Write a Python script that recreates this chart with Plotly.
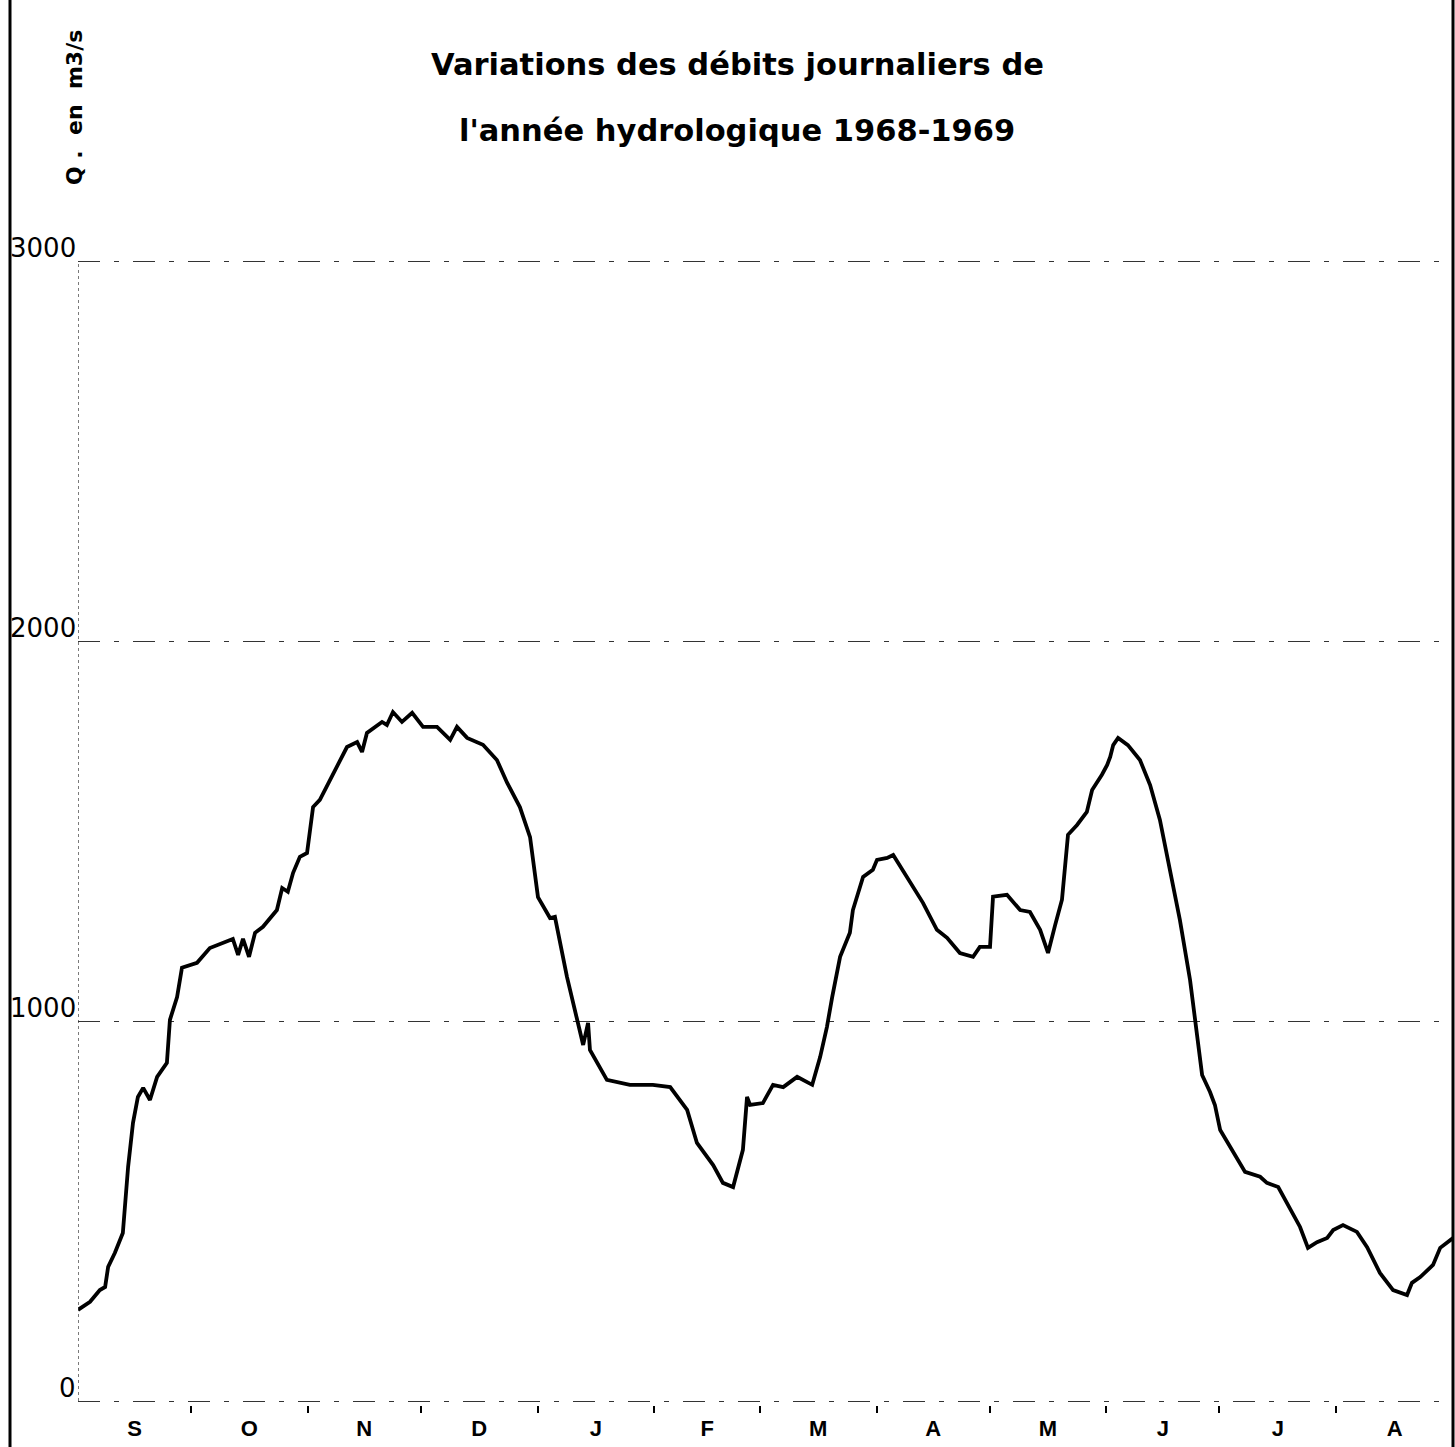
import plotly.graph_objects as go

# ---- data ----
day = [0, 3.2, 5.8, 7.2, 8.0, 9.8, 11.9, 12.5, 13.3, 14.6, 15.9, 17.3, 19.1, 21.0, 23.6, 24.4, 26.3, 27.6,
       31.6, 35.0, 41.1, 42.5, 43.8, 45.4, 47.0, 49.1, 52.8, 54.2, 55.7, 57.1, 58.9, 60.8, 62.4, 64.2, 66.9,
       68.8, 71.4, 74.1, 75.4, 76.7, 80.7, 82.0, 83.6, 86.0, 88.7, 91.6, 95.3, 98.8, 100.6, 103.3, 107.5,
       111.2, 113.9, 117.3, 120.0, 122.1, 125.3, 126.6, 129.8, 134.1, 135.4, 135.9, 140.4, 146.5, 152.6,
       157.2, 161.7, 164.3, 168.6, 171.2, 173.9, 176.5, 177.6, 178.4, 181.8, 184.5, 187.2, 190.9, 194.9,
       197.0, 198.8, 200.2, 202.3, 204.9, 205.7, 208.4, 211.0, 212.1, 214.8, 216.4, 220.1, 224.3, 228.0,
       230.7, 234.1, 237.6, 239.4, 242.1, 242.9, 246.6, 250.1, 252.7, 255.4, 257.5, 259.4, 261.2, 262.8,
       265.2, 267.8, 269.2, 271.8, 273.2, 274.0, 274.8, 276.1, 278.7, 281.9, 284.6, 287.2, 289.9, 292.5,
       295.2, 297.1, 298.4, 300.5, 301.8, 303.2, 306.3, 309.8, 313.8, 315.6, 318.6, 320.9, 324.4, 326.5,
       328.9, 331.6, 333.2, 335.8, 339.5, 342.2, 345.6, 349.1, 352.8, 354.1, 356.3, 359.7, 361.6, 365]
debit = [240, 261, 292, 300, 353, 390, 442, 529, 616, 732, 800, 824, 792, 853, 890, 1003, 1063, 1140,
         1153, 1192, 1216, 1174, 1216, 1169, 1232, 1248, 1292, 1350, 1340, 1390, 1432, 1442, 1563, 1582, 1634,
         1674, 1721, 1734, 1708, 1758, 1787, 1779, 1813, 1787, 1811, 1774, 1774, 1740, 1774, 1745, 1727,
         1687, 1627, 1563, 1484, 1326, 1271, 1274, 1116, 937, 995, 924, 845, 832, 832,
         826, 766, 679, 621, 574, 563, 661, 800, 779, 784, 832, 826, 853, 832,
         905, 984, 1063, 1169, 1232, 1292, 1379, 1398, 1424, 1429, 1437, 1379, 1311, 1240,
         1219, 1179, 1169, 1195, 1195, 1327, 1332, 1292, 1287, 1240, 1179, 1253, 1319, 1490,
         1516, 1550, 1608, 1648, 1674, 1695, 1726, 1745, 1726, 1687, 1621, 1529, 1398, 1266,
         1108, 950, 858, 813, 779, 713, 661, 603, 590, 574, 563, 521, 458, 403,
         418, 429, 450, 463, 445, 405, 337, 292, 279, 311, 326, 358, 403, 429]

month_bounds = [0, 30, 61, 91, 122, 153, 181, 212, 242, 273, 303, 334, 365]
month_labels = ["S", "O", "N", "D", "J", "F", "M", "A", "M", "J", "J", "A"]
y_ticks = [0, 1000, 2000, 3000]
y_ticklabels = ["0", "1000", "2000", "3000"]

title_lines = ["Variations des débits journaliers de", "l'année hydrologique 1968-1969"]
y_title = "Q .  en  m3/s"

month_mids = [(month_bounds[i] + month_bounds[i + 1]) / 2 for i in range(len(month_labels))]

fig = go.Figure()
fig.add_trace(go.Scatter(x=day, y=debit, mode="lines",
                         line=dict(color="black", width=3.8), hoverinfo="skip", showlegend=False))

W, H = 1455, 1447
L, R, T, B = 78, 2, 0, 42
plot_h = H - T - B
plot_w = W - L - R
px_per_unit = (1401 - 261) / 3000.0
ymin = -((H - B) - 1401) / px_per_unit
ymax = 3000 + 261 / px_per_unit


def ypaper(pix):
    return ((H - B) - pix) / plot_h


fig.update_layout(
    width=W, height=H,
    margin=dict(l=L, r=R, t=T, b=B),
    paper_bgcolor="white", plot_bgcolor="white",
    showlegend=False,
    font=dict(family="DejaVu Sans", color="black"),
)

# title, two lines
for line, ypix in zip(title_lines, [65, 130]):
    fig.add_annotation(x=(737 - L) / plot_w, xref="paper", xanchor="center",
                       y=ypaper(ypix), yref="paper", yanchor="middle",
                       text=line, showarrow=False,
                       font=dict(family="DejaVu Sans", size=30.5, color="black", weight="bold"))

fig.update_xaxes(
    range=[0, 365], showgrid=False, zeroline=False, showline=False,
    tickmode="array", tickvals=month_mids,
    ticktext=["<b>%s</b>" % m for m in month_labels],
    ticks="", tickfont=dict(family="Liberation Sans", size=22, color="black"),
    ticklabelstandoff=8,
    minor=dict(tickmode="array", tickvals=month_bounds[1:-1], ticks="outside",
               ticklen=7, tickwidth=2, tickcolor="black", showgrid=False),
)

fig.update_yaxes(
    range=[ymin, ymax], zeroline=False, showline=False,
    tickmode="array", tickvals=y_ticks, showticklabels=False,
    showgrid=True, gridcolor="#333333", gridwidth=1.3,
    griddash="22px,14px,5px,14px",
)

# y tick labels sitting above their grid lines
for v, lab in zip(y_ticks, y_ticklabels):
    fig.add_annotation(x=0, xref="paper", xanchor="right", xshift=0,
                       y=v, yref="y", yanchor="middle", yshift=13,
                       text=lab, showarrow=False,
                       font=dict(family="DejaVu Sans", size=26, color="black"))

# vertical axis title
fig.add_annotation(x=0, xref="paper", xanchor="center", xshift=-4,
                   y=ypaper(108), yref="paper", yanchor="middle",
                   text=y_title, textangle=-90, showarrow=False,
                   font=dict(family="DejaVu Sans", size=22, color="black", weight="bold"))

# dotted y-axis line
fig.add_shape(type="line", xref="x", yref="y", x0=0, x1=0, y0=0, y1=y_ticks[-1],
              line=dict(color="#333333", width=1.3, dash="dot"))

# frame lines (left and right borders of the scanned sheet)
fig.add_shape(type="line", xref="paper", yref="paper",
              x0=(10 - L) / plot_w, x1=(10 - L) / plot_w,
              y0=-B / plot_h, y1=1, line=dict(color="black", width=3))
fig.add_shape(type="line", xref="paper", yref="paper", x0=1, x1=1,
              y0=-B / plot_h, y1=1, line=dict(color="black", width=3))

fig.write_html("out.html", config={"displayModeBar": False},
               post_script="document.body.style.margin='0';")
